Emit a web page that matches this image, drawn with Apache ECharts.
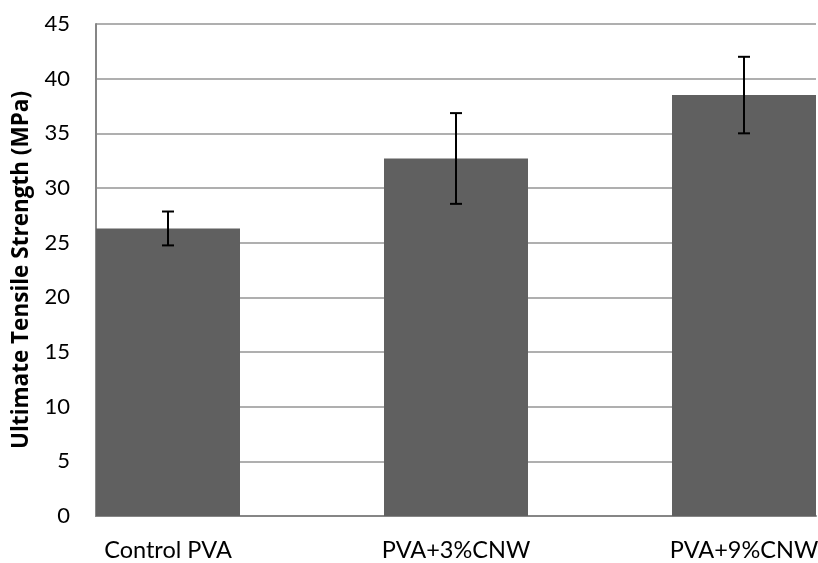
<!DOCTYPE html>
<html>
<head>
<meta charset="utf-8">
<script src="https://cdn.jsdelivr.net/npm/echarts@6/dist/echarts.min.js"></script>
<style>html,body{margin:0;padding:0;background:#fff}#c{width:818px;height:563px}</style>
</head>
<body>
<div id="c"></div>
<script>
const categories = ['Control PVA', 'PVA+3%CNW', 'PVA+9%CNW'];
const strength = [26.3, 32.7, 38.5];
const errors = [1.55, 4.15, 3.5];
const yTicks = [0, 5, 10, 15, 20, 25, 30, 35, 40, 45];

const positions = categories.map((c, i) => i);
const barData = strength.map((v, i) => [positions[i], v]);
const errData = strength.map((v, i) => [positions[i], v - errors[i], v + errors[i]]);

const font = 'Lato, "Open Sans", sans-serif';
const titleFont = '"Open Sans", Lato, sans-serif';
const chart = echarts.init(document.getElementById('c'), null, {renderer: 'canvas'});
chart.setOption({
  animation: false,
  backgroundColor: '#fff',
  grid: {left: 96, right: 2, top: 24, bottom: 47, containLabel: false, outerBoundsMode: 'none'},
  xAxis: {
    type: 'value',
    min: -0.25,
    max: 2.25,
    axisLine: {show: true, onZero: false, lineStyle: {color: '#868686', width: 2}},
    axisTick: {show: false},
    splitLine: {show: false},
    axisLabel: {
      customValues: positions,
      formatter: v => categories[Math.round(v)],
      color: '#000', fontSize: 23.5, fontFamily: font, margin: 22
    }
  },
  yAxis: {
    type: 'value',
    min: 0, max: 45, interval: 5,
    name: 'Ultimate Tensile Strength (MPa)',
    nameLocation: 'middle',
    nameGap: 62,
    nameTextStyle: {fontSize: 22.5, fontWeight: 'bold', fontFamily: titleFont, color: '#000'},
    axisLine: {show: true, onZero: false, lineStyle: {color: '#868686', width: 2}},
    axisTick: {show: false},
    axisLabel: {color: '#000', fontSize: 22, fontFamily: font, margin: 26,
      formatter: v => yTicks.includes(v) ? String(v) : ''},
    splitLine: {show: true, lineStyle: {color: '#959595', width: 1.5}}
  },
  series: [
    {
      type: 'bar',
      data: barData,
      barWidth: '50%',
      itemStyle: {color: '#606060'}
    },
    {
      type: 'custom',
      data: errData,
      z: 10,
      renderItem: function (params, api) {
        const x = api.value(0);
        const lo = api.coord([x, api.value(1)]);
        const hi = api.coord([x, api.value(2)]);
        const hw = 6;
        const style = {stroke: '#000', lineWidth: 2};
        return {
          type: 'group',
          children: [
            {type: 'line', shape: {x1: lo[0], y1: lo[1], x2: hi[0], y2: hi[1]}, style},
            {type: 'line', shape: {x1: lo[0] - hw, y1: lo[1], x2: lo[0] + hw, y2: lo[1]}, style},
            {type: 'line', shape: {x1: hi[0] - hw, y1: hi[1], x2: hi[0] + hw, y2: hi[1]}, style}
          ]
        };
      }
    }
  ]
});
</script>
</body>
</html>
